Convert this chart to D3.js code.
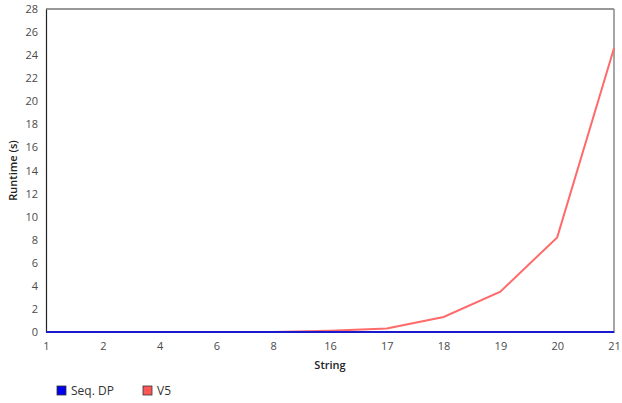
<!DOCTYPE html>
<html>
<head>
<meta charset="utf-8">
<script src="https://cdn.jsdelivr.net/npm/d3@7"></script>
<style>
  body { margin: 0; background: #fff; }
  text { font-family: "Open Sans", sans-serif; }
</style>
</head>
<body>
<svg id="chart"></svg>
<script>
// string sizes on the x axis (categorical)
const strings = ["1", "2", "4", "6", "8", "16", "17", "18", "19", "20", "21"];
const seqDP = [0, 0, 0, 0, 0, 0, 0, 0, 0, 0, 0];
const v5 = [0, 0, 0, 0, 0, 0.1, 0.3, 1.3, 3.5, 8.2, 24.6];
const yTicks = d3.range(0, 29, 2);

const width = 622, height = 403;
const margin = {top: 9, right: 8, bottom: 71, left: 46};

const svg = d3.select("#chart")
    .attr("width", width)
    .attr("height", height);

const x = d3.scalePoint()
    .domain(strings)
    .range([margin.left, width - margin.right]);

const y = d3.scaleLinear()
    .domain([0, 28])
    .range([height - margin.bottom, margin.top]);

// frame: top + right
svg.append("line")
    .attr("x1", margin.left).attr("x2", width - margin.right)
    .attr("y1", margin.top).attr("y2", margin.top)
    .attr("stroke", "#333").attr("stroke-width", 1.2);
svg.append("line")
    .attr("x1", width - margin.right).attr("x2", width - margin.right)
    .attr("y1", margin.top).attr("y2", height - margin.bottom)
    .attr("stroke", "#888").attr("stroke-width", 1.5);

// y axis
const yAxis = svg.append("g")
    .attr("transform", `translate(${margin.left},0)`)
    .call(d3.axisLeft(y).tickValues(yTicks).tickSize(0).tickPadding(8));
yAxis.select(".domain").attr("stroke", "#222").attr("stroke-width", 1.2);
yAxis.selectAll("text").attr("fill", "#4a4a4a").style("font-size", "11px");

// x axis
const xAxis = svg.append("g")
    .attr("transform", `translate(0,${height - margin.bottom})`)
    .call(d3.axisBottom(x).tickSize(0).tickPadding(10));
xAxis.select(".domain").attr("stroke", "#222").attr("stroke-width", 1.2);
xAxis.selectAll("text").attr("fill", "#4a4a4a").style("font-size", "11px");

// axis titles
svg.append("text")
    .attr("x", (margin.left + width - margin.right) / 2)
    .attr("y", 369)
    .attr("text-anchor", "middle")
    .style("font-size", "11px")
    .style("font-weight", "600")
    .attr("fill", "#222")
    .text("String");

svg.append("text")
    .attr("transform", `translate(17,${(margin.top + height - margin.bottom) / 2}) rotate(-90)`)
    .attr("text-anchor", "middle")
    .style("font-size", "11px")
    .style("font-weight", "600")
    .attr("fill", "#222")
    .text("Runtime (s)");

const line = d3.line()
    .x((d, i) => x(strings[i]))
    .y(d => y(d));

svg.append("path")
    .attr("fill", "none")
    .attr("stroke", "#ff6a6a")
    .attr("stroke-width", 2)
    .attr("d", line(v5));

svg.append("path")
    .attr("fill", "none")
    .attr("stroke", "#1a1acc")
    .attr("stroke-width", 2)
    .attr("d", line(seqDP));

// legend
const legend = [
  {name: "Seq. DP", color: "#0000ee", x: 57},
  {name: "V5", color: "#ff5555", x: 143}
];
const lg = svg.selectAll(".legend")
    .data(legend)
    .enter().append("g")
    .attr("transform", d => `translate(${d.x},386)`);
lg.append("rect")
    .attr("width", 9).attr("height", 9)
    .attr("fill", d => d.color)
    .attr("stroke", "#333").attr("stroke-width", 0.8);
lg.append("text")
    .attr("x", 14).attr("y", 9)
    .style("font-size", "12px")
    .attr("fill", "#333")
    .text(d => d.name);
</script>
</body>
</html>
